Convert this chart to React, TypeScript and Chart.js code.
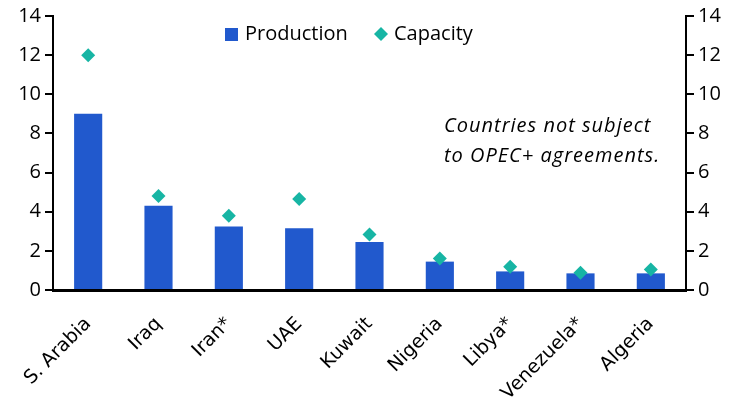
import React, { useEffect, useRef } from "react";
import { Chart, registerables } from "chart.js";
Chart.register(...registerables);

const categories = ["S. Arabia", "Iraq", "Iran*", "UAE", "Kuwait", "Nigeria", "Libya*", "Venezuela*", "Algeria"];
const production = [9.0, 4.3, 3.25, 3.15, 2.45, 1.45, 0.95, 0.85, 0.85];
const capacity = [12.0, 4.8, 3.8, 4.65, 2.83, 1.61, 1.19, 0.88, 1.05];
const yTicks = [0, 2, 4, 6, 8, 10, 12, 14];
const legendLabels = ["Production", "Capacity"];
const noteLines = ["Countries not subject", "to OPEC+ agreements."];

const BAR = "#2159CD";
const DIAMOND = "#17B5A4";
const FONT = "'Open Sans', sans-serif";
const XFONT = "'DejaVu Sans', sans-serif";

export default function App() {
  const ref = useRef<HTMLCanvasElement>(null);
  useEffect(() => {
    document.body.style.margin = "0";
    const overlay = {
      id: "overlay",
      afterDraw(chart: any) {
        const ctx = chart.ctx;
        ctx.save();
        // legend
        ctx.font = `20px ${FONT}`;
        ctx.textBaseline = "middle";
        const ly = 34;
        ctx.fillStyle = BAR;
        ctx.fillRect(225, ly - 6, 13, 13);
        ctx.fillStyle = "#000";
        ctx.textAlign = "left";
        ctx.fillText(legendLabels[0], 245, ly);
        ctx.fillStyle = DIAMOND;
        const dx = 381, r = 7;
        ctx.beginPath();
        ctx.moveTo(dx, ly - r);
        ctx.lineTo(dx + r, ly);
        ctx.lineTo(dx, ly + r);
        ctx.lineTo(dx - r, ly);
        ctx.closePath();
        ctx.fill();
        ctx.fillStyle = "#000";
        ctx.fillText(legendLabels[1], 394, ly);
        // note
        ctx.font = `italic 20px ${FONT}`;
        (ctx as any).letterSpacing = "1px";
        ctx.fillText(noteLines[0], 444, 126);
        ctx.fillText(noteLines[1], 444, 156);
        ctx.restore();
      },
    };
    const yCommon = (position: "left" | "right") => ({
      position,
      min: 0,
      max: 14,
      afterBuildTicks: (s: any) => {
        s.ticks = yTicks.map((v) => ({ value: v }));
      },
      afterFit: (s: any) => {
        s.width = position === "left" ? 53 : 54;
      },
      ticks: { color: "#000", font: { family: FONT, size: 20 }, padding: 4 },
      grid: { drawOnChartArea: false, color: "#000", lineWidth: 2, tickLength: 8 },
      border: { color: "#000", width: 2 },
    });
    const chart = new Chart(ref.current!, {
      type: "bar",
      data: {
        labels: categories,
        datasets: [
          {
            type: "bar",
            label: legendLabels[0],
            data: production,
            backgroundColor: BAR,
            categoryPercentage: 1,
            barPercentage: 0.4,
            yAxisID: "y",
            order: 2,
          },
          {
            type: "line",
            label: legendLabels[1],
            data: capacity,
            showLine: false,
            pointStyle: "rectRot",
            pointRadius: 7,
            pointBackgroundColor: DIAMOND,
            pointBorderWidth: 0,
            borderColor: DIAMOND,
            yAxisID: "y",
            order: 1,
          } as any,
        ],
      },
      options: {
        animation: false,
        responsive: false,
        layout: { padding: { top: 15, left: 0, right: 0, bottom: 0 } },
        plugins: { legend: { display: false }, tooltip: { enabled: false } },
        scales: {
          x: {
            ticks: {
              color: "#000",
              font: { family: XFONT, size: 19 },
              minRotation: 45,
              maxRotation: 45,
              padding: 15,
              autoSkip: false,
            },
            grid: { display: false },
            border: { color: "#000", width: 3 },
            afterFit: (s: any) => {
              s.height = 107;
            },
          },
          y: yCommon("left") as any,
          y2: yCommon("right") as any,
        },
      },
      plugins: [overlay],
    });
    return () => chart.destroy();
  }, []);
  return <canvas ref={ref} width={740} height={397} style={{ display: "block" }} />;
}
